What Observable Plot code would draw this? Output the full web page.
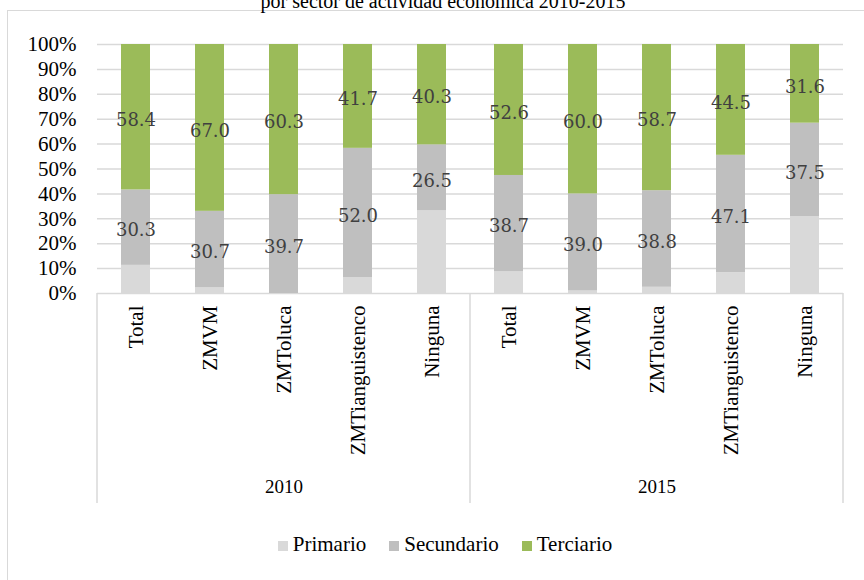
<!DOCTYPE html>
<html><head><meta charset="utf-8">
<script src="https://cdn.jsdelivr.net/npm/d3@7"></script>
<script src="https://cdn.jsdelivr.net/npm/@observablehq/plot@0.6"></script>
<style>
body{margin:0;background:#fff;}
#wrap{position:relative;width:864px;height:580px;overflow:hidden;font-family:"Liberation Serif","Times New Roman",Tinos,Times,serif;}
#frame{position:absolute;left:7px;top:10px;right:-10px;bottom:-10px;border-top:1.5px solid #d9d9d9;border-left:1.5px solid #d9d9d9;}
#title{position:absolute;top:-9px;left:0;width:886px;text-align:center;font-size:20px;line-height:20px;color:#000;white-space:nowrap;}
#legend{position:absolute;top:532px;left:0;width:890px;display:flex;justify-content:center;gap:23px;font-size:21px;color:#000;}
#legend .it{display:flex;align-items:baseline;gap:5px;}
#legend .sw{display:inline-block;width:10px;height:10px;}
#chart{position:absolute;left:0;top:0;}
#chart svg text{font-family:"Liberation Serif","Times New Roman",Tinos,Times,serif;}
</style>
</head><body>
<div id="wrap">
  <div id="frame"></div>
  <div id="title">por sector de actividad económica 2010-2015</div>
  <div id="chart"></div>
  <div id="legend"></div>
</div>
<script>
const years = ["2010", "2015"];
const zonas = ["Total", "ZMVM", "ZMToluca", "ZMTianguistenco", "Ninguna"];
const sectores = ["Primario", "Secundario", "Terciario"];
const colores = ["#d9d9d9", "#bfbfbf", "#9bbb59"];
const primario   = [11.3, 2.3, 0.0, 6.3, 33.2, 8.7, 1.0, 2.5, 8.4, 30.9];
const secundario = [30.3, 30.7, 39.7, 52.0, 26.5, 38.7, 39.0, 38.8, 47.1, 37.5];
const terciario  = [58.4, 67.0, 60.3, 41.7, 40.3, 52.6, 60.0, 58.7, 44.5, 31.6];
const yTicks = [0, 10, 20, 30, 40, 50, 60, 70, 80, 90, 100];

const series = [primario, secundario, terciario];
const rows = [];
years.forEach((yr, yi) => {
  zonas.forEach((z, zi) => {
    const i = yi * zonas.length + zi;
    sectores.forEach((s, si) => rows.push({year: yr, zona: z, sector: s, value: series[si][i]}));
  });
});

const chart = Plot.plot({
  width: 864, height: 580,
  marginTop: 44, marginBottom: 287, marginLeft: 96, marginRight: 21,
  style: {background: "transparent", overflow: "visible", color: "#000"},
  fx: {domain: years, padding: 0, label: null, axis: null},
  x: {domain: zonas, paddingInner: 0.612, paddingOuter: 0.306, label: null, axis: null},
  y: {domain: [0, 100], label: null, axis: null},
  color: {domain: sectores, range: colores},
  marks: [
    Plot.gridY(yTicks, {stroke: "#d9d9d9", strokeOpacity: 1, strokeWidth: 1.5}),
    Plot.barY(rows, Plot.stackY({x: "zona", fx: "year", y: "value", fill: "sector"})),
    Plot.text(rows, Plot.stackY({
      x: "zona", fx: "year", y: "value", z: "sector",
      text: d => d.sector === "Primario" ? null : d.value.toFixed(1),
      fill: "#404040", fontSize: 18, dy: 3, className: "lbl"
    })),
    Plot.axisY(yTicks, {tickSize: 0, tickPadding: 21, tickFormat: d => d + "%", fontSize: 21, label: null}),
    Plot.axisX({anchor: "bottom", tickSize: 0, tickPadding: 12, tickRotate: -90, fontSize: 21, label: null}),
    Plot.axisFx({anchor: "bottom", tickSize: 0, tickPadding: 186, fontSize: 19, label: null})
  ]
});
document.getElementById("chart").appendChild(chart);

// group separators derived from the facet scale
const fx = chart.scale("fx"), y = chart.scale("y");
const svg = d3.select(chart);
const y0 = y.apply(0);
const edges = new Set();
years.forEach(yr => {
  const a = fx.apply(yr);
  edges.add(a); edges.add(a + fx.bandwidth);
});
edges.forEach(xv => {
  svg.append("line").attr("x1", xv).attr("x2", xv).attr("y1", y0).attr("y2", y0 + 210)
    .attr("stroke", "#d9d9d9").attr("stroke-width", 1.5);
});
svg.selectAll("text").filter(function () {
  const g = this.closest("g");
  return g && (g.getAttribute("class") || "").includes("lbl");
}).style("font-family", "'DejaVu Serif', serif");

// legend
const leg = d3.select("#legend");
sectores.forEach((s, i) => {
  const it = leg.append("div").attr("class", "it");
  it.append("span").attr("class", "sw").style("background", colores[i]);
  it.append("span").text(s);
});
</script>
</body></html>
